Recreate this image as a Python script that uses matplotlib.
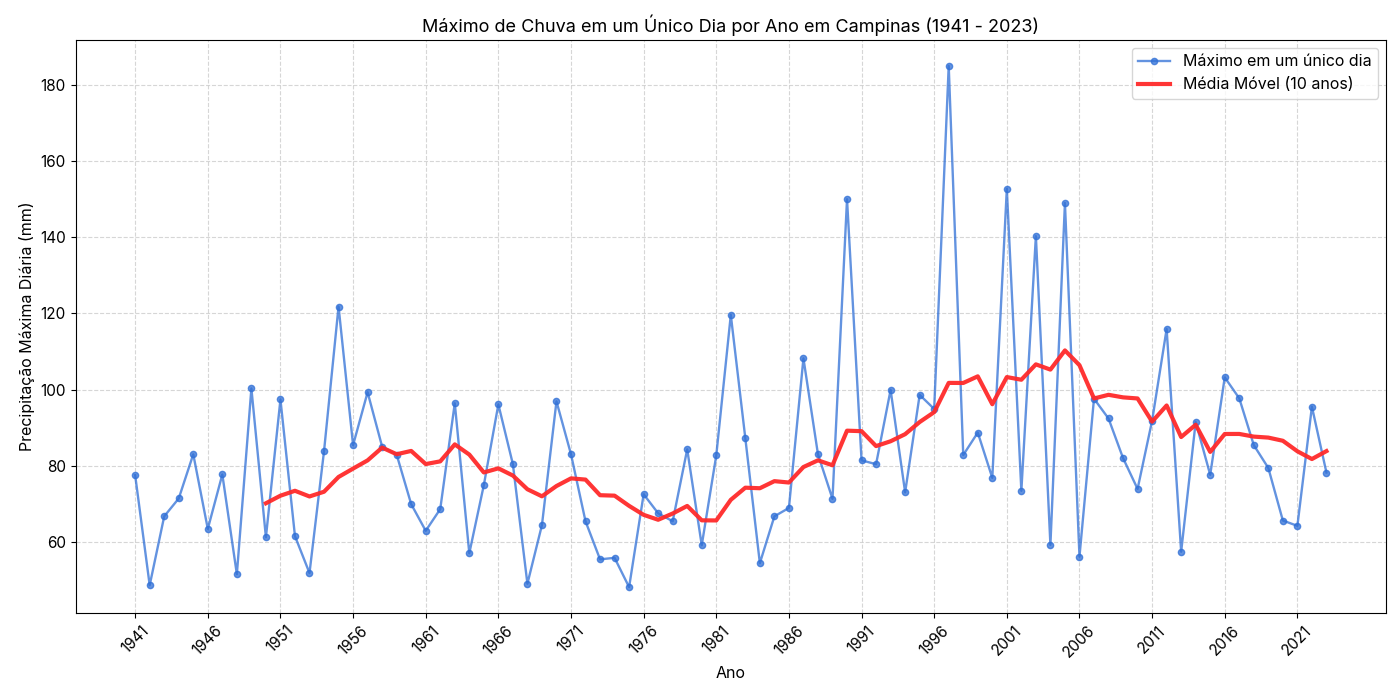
import matplotlib
matplotlib.use("Agg")
import matplotlib.pyplot as plt
import pandas as pd

# anos e máximo diário de chuva (mm)
anos = list(range(1941, 2024))
maximo = [
    77.5, 48.6, 66.7, 71.4, 83.0, 63.4, 77.7, 51.5, 100.3, 61.2,   # 1941-1950
    97.4, 61.5, 51.8, 83.8, 121.8, 85.4, 99.3, 85.0, 82.9, 69.9,   # 1951-1960
    62.9, 68.6, 96.4, 57.0, 74.9, 96.1, 80.4, 49.0, 64.4, 96.9,    # 1961-1970
    83.0, 65.4, 55.4, 55.8, 48.1, 72.5, 67.5, 65.4, 84.3, 59.1,    # 1971-1980
    82.7, 119.6, 87.2, 54.4, 66.7, 68.9, 108.2, 83.0, 71.3, 150.0, # 1981-1990
    81.4, 80.4, 99.9, 73.0, 98.6, 94.9, 185.0, 82.8, 88.7, 76.8,   # 1991-2000
    152.7, 73.4, 140.3, 59.2, 149.0, 56.1, 97.6, 92.4, 82.0, 73.9, # 2001-2010
    91.8, 115.9, 57.4, 91.5, 77.6, 103.2, 97.7, 85.4, 79.4, 65.6,  # 2011-2020
    64.2, 95.5, 78.2,                                              # 2021-2023
]
janela = 10
ticks_anos = list(range(1941, 2022, 5))

serie = pd.Series(maximo, index=anos)
media_movel = serie.rolling(window=janela).mean()

plt.rcParams['font.family'] = ['Inter', 'DejaVu Sans']

fig = plt.figure(figsize=(14, 7), dpi=100)
ax = fig.add_subplot(111)
fig.subplots_adjust(left=0.054, right=0.99, top=0.943, bottom=0.124)

ax.plot(anos, maximo, marker='o', markersize=4.5, linewidth=1.7,
        color='#2f6fd6', alpha=0.75, label='Máximo em um único dia')
ax.plot(media_movel.index, media_movel.values, color='#ff2a2a', linewidth=3,
        alpha=0.95, label='Média Móvel (10 anos)')

ax.set_title('Máximo de Chuva em um Único Dia por Ano em Campinas (1941 - 2023)', fontsize=13)
ax.set_xlabel('Ano', fontsize=11.5)
ax.set_ylabel('Precipitação Máxima Diária (mm)', fontsize=11.5)
ax.set_xticks(ticks_anos)
ax.tick_params(axis='x', rotation=45, labelsize=11)
ax.tick_params(axis='y', labelsize=11)
ax.grid(True, linestyle='--', color='#cccccc', alpha=0.8)
ax.legend(loc='upper right', fontsize=11.5)

fig.savefig('out.png', dpi=100)
